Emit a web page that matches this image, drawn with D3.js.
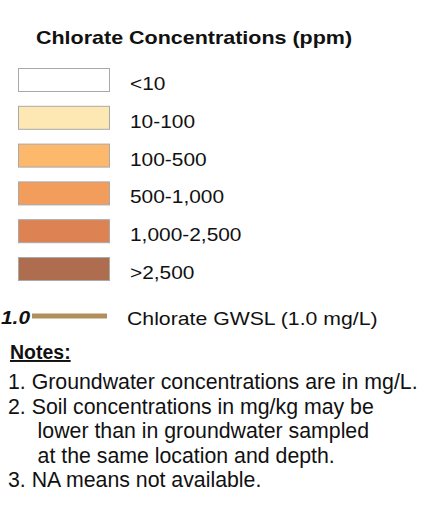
<!DOCTYPE html>
<html>
<head>
<meta charset="utf-8">
<script src="https://cdn.jsdelivr.net/npm/d3@7"></script>
<style>
  body { margin: 0; background: #fff; }
  svg { display: block; font-family: "Liberation Sans", Arial, sans-serif; }
</style>
</head>
<body>
<script>
const TITLE = "Chlorate Concentrations (ppm)"
const CLASSES = ["<10", "10-100", "100-500", "500-1,000", "1,000-2,500", ">2,500"]
const CLASS_COLORS = ["#ffffff", "#fde8b4", "#fdb96b", "#f29d5c", "#dd8252", "#ae6d4f"]
const GWSL_VALUE = "1.0"
const GWSL_LABEL = "Chlorate GWSL (1.0 mg/L)"
const NOTES_TITLE = "Notes:"
const NOTES = [
  "1. Groundwater concentrations are in mg/L.",
  "2. Soil concentrations in mg/kg may be",
  "     lower than in groundwater sampled",
  "     at the same location and depth.",
  "3. NA means not available."
]

const svg = d3.select("body")
              .append("svg")
              .attr("width", 423)
              .attr("height", 507)

// title (source image is stretched a bit horizontally)
svg.append("text")
   .attr("transform", "translate(36,44) scale(1.155,1)")
   .attr("font-size", 18.6)
   .attr("font-weight", "bold")
   .attr("fill", "#111")
   .text(TITLE)

const y = d3.scalePoint()
            .domain(CLASSES)
            .range([68, 257])

const color = d3.scaleOrdinal()
                .domain(CLASSES)
                .range(CLASS_COLORS)

const rows = svg.append("g")
                .selectAll("g")
                .data(CLASSES)
                .enter()
                .append("g")
                .attr("transform", d => "translate(0," + y(d) + ")")

rows.append("rect")
    .attr("x", 18.5)
    .attr("y", 0.5)
    .attr("width", 91)
    .attr("height", 23)
    .attr("fill", d => color(d))
    .attr("stroke", "#a9a9a9")
    .attr("stroke-width", 1)

rows.append("text")
    .attr("transform", "translate(130,22) scale(1.13,1)")
    .attr("font-size", 18.5)
    .attr("fill", "#111")
    .text(d => d)

// GWSL line symbol
const gwsl = svg.append("g")
gwsl.append("text")
    .attr("transform", "translate(1,324) scale(1.13,1)")
    .attr("font-size", 18.5)
    .attr("font-weight", "bold")
    .attr("font-style", "italic")
    .attr("fill", "#111")
    .text(GWSL_VALUE)
gwsl.append("line")
    .attr("x1", 32)
    .attr("x2", 107)
    .attr("y1", 316)
    .attr("y2", 316)
    .attr("stroke", "#b08f5c")
    .attr("stroke-width", 5)
gwsl.append("text")
    .attr("transform", "translate(127,325) scale(1.13,1)")
    .attr("font-size", 18.8)
    .attr("fill", "#111")
    .text(GWSL_LABEL)

// notes
svg.append("text")
   .attr("x", 10)
   .attr("y", 359)
   .attr("font-size", 19.5)
   .attr("font-weight", "bold")
   .attr("text-decoration", "underline")
   .attr("fill", "#111")
   .text(NOTES_TITLE)

const noteY = d3.scalePoint()
                .domain(d3.range(NOTES.length))
                .range([389, 487])

svg.append("g")
   .selectAll("text")
   .data(NOTES)
   .enter()
   .append("text")
   .attr("x", 8)
   .attr("y", (d, i) => noteY(i))
   .attr("font-size", 21.3)
   .attr("fill", "#111")
   .attr("xml:space", "preserve")
   .style("white-space", "pre")
   .text(d => d)
</script>
</body>
</html>
